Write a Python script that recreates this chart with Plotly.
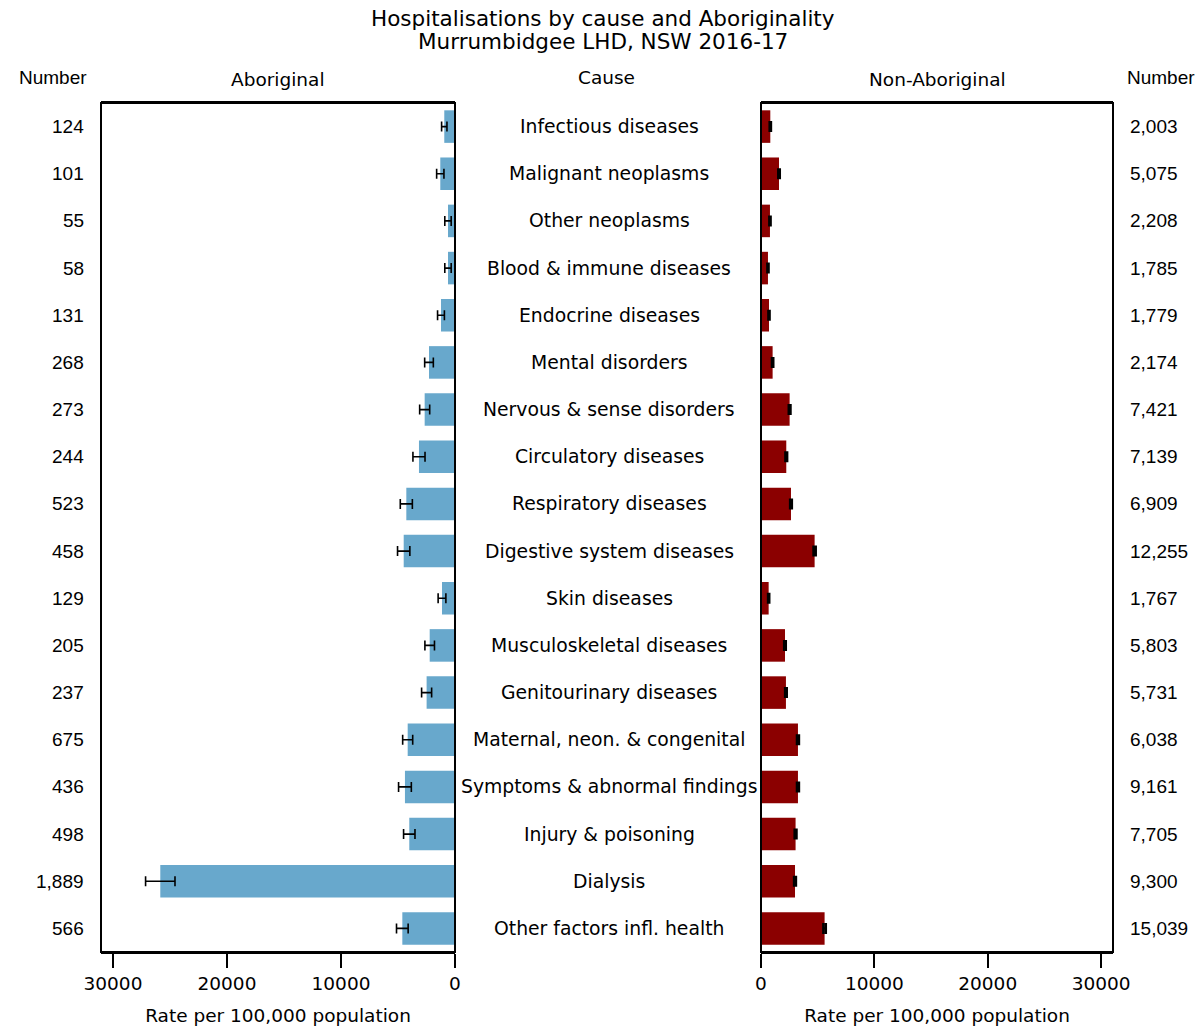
import plotly.graph_objects as go

# Hospitalisation causes, top to bottom
causes = [
    "Infectious diseases", "Malignant neoplasms", "Other neoplasms",
    "Blood & immune diseases", "Endocrine diseases", "Mental disorders",
    "Nervous & sense disorders", "Circulatory diseases", "Respiratory diseases",
    "Digestive system diseases", "Skin diseases", "Musculoskeletal diseases",
    "Genitourinary diseases", "Maternal, neon. & congenital",
    "Symptoms & abnormal findings", "Injury & poisoning", "Dialysis",
    "Other factors infl. health",
]

# Aboriginal: rate per 100,000, 95% CI half-width, number of hospitalisations
abor_rate = [940, 1290, 615, 615, 1230, 2280, 2660, 3160, 4270, 4500,
             1140, 2220, 2490, 4150, 4390, 4010, 25850, 4620]
abor_ci = [235, 320, 280, 280, 300, 380, 440, 530, 530, 540,
           340, 420, 440, 440, 560, 500, 1290, 510]
abor_n = [124, 101, 55, 58, 131, 268, 273, 244, 523, 458,
          129, 205, 237, 675, 436, 498, 1889, 566]

# Non-Aboriginal
nonabor_rate = [820, 1590, 790, 615, 705, 1025, 2525, 2230, 2645, 4730,
                675, 2115, 2200, 3260, 3260, 3050, 3000, 5610]
nonabor_ci = [60, 70, 60, 55, 55, 60, 80, 80, 80, 100,
              55, 75, 75, 90, 90, 85, 85, 110]
nonabor_n = [2003, 5075, 2208, 1785, 1779, 2174, 7421, 7139, 6909, 12255,
             1767, 5803, 5731, 6038, 9161, 7705, 9300, 15039]

title_lines = ["Hospitalisations by cause and Aboriginality",
               "Murrumbidgee LHD, NSW 2016-17"]

W, H = 1204, 1030
VERDANA = "DejaVu Sans"
ARIAL = "Liberation Sans"


def px(x):
    return x / W


def py(y):
    return 1 - y / H


fig = go.Figure()

fig.add_trace(go.Bar(
    y=causes, x=abor_rate, orientation="h", xaxis="x", yaxis="y",
    marker=dict(color="rgb(104,168,204)", line=dict(width=0)),
    error_x=dict(type="data", array=abor_ci, color="black", thickness=1.6, width=5),
    showlegend=False, name="Aboriginal",
))
fig.add_trace(go.Bar(
    y=causes, x=nonabor_rate, orientation="h", xaxis="x2", yaxis="y",
    marker=dict(color="rgb(139,0,0)", line=dict(width=0)),
    error_x=dict(type="data", array=nonabor_ci, color="black", thickness=2.4, width=5.5),
    showlegend=False, name="Non-Aboriginal",
))

axis_common = dict(
    showline=True, linecolor="black", linewidth=2, mirror=True,
    showgrid=False, zeroline=False, automargin=False,
    ticks="outside", ticklen=14, tickwidth=1.5, tickcolor="black",
    tickvals=[0, 10000, 20000, 30000], ticktext=["0", "10000", "20000", "30000"],
    tickfont=dict(family=VERDANA, size=18.5, color="black"),
    title=dict(text="Rate per 100,000 population", standoff=16,
               font=dict(family=VERDANA, size=18.5, color="black")),
)

fig.update_layout(
    width=W, height=H, autosize=False,
    margin=dict(l=0, r=0, t=0, b=0, pad=0, autoexpand=False),
    paper_bgcolor="white", plot_bgcolor="white",
    showlegend=False,
    bargap=0.31,
    xaxis=dict(domain=[px(101), px(455)], range=[31050, 0], anchor="y", **axis_common),
    xaxis2=dict(domain=[px(761), px(1113)], range=[0, 31050], anchor="y", **axis_common),
    yaxis=dict(
        domain=[py(952), py(103)], categoryorder="array", categoryarray=causes,
        autorange="reversed", showticklabels=False, ticks="", automargin=False,
        showline=False, showgrid=False, zeroline=False,
    ),
)

# Frames around both panels
for x0, x1 in [(101, 455), (761, 1113)]:
    fig.add_shape(type="rect", xref="paper", yref="paper",
                  x0=px(x0), x1=px(x1), y0=py(952), y1=py(103),
                  line=dict(color="black", width=2), fillcolor="rgba(0,0,0,0)")

ann = []
for text, yc in zip(title_lines, [18, 42]):
    ann.append(dict(text=text, xref="paper", x=px(603), xanchor="center",
                    yref="paper", y=py(yc), yanchor="middle", showarrow=False,
                    font=dict(family=VERDANA, size=21.5, color="black")))

for c, na, nn in zip(causes, abor_n, nonabor_n):
    ann.append(dict(text=c, xref="paper", x=px(609), xanchor="center",
                    yref="y", y=c, yanchor="middle", showarrow=False,
                    font=dict(family=VERDANA, size=18.8, color="black")))
    ann.append(dict(text=f"{na:,}", xref="paper", x=px(86), xanchor="right",
                    yref="y", y=c, yanchor="middle", showarrow=False,
                    font=dict(family=ARIAL, size=19, color="black")))
    ann.append(dict(text=f"{nn:,}", xref="paper", x=px(1128), xanchor="left",
                    yref="y", y=c, yanchor="middle", showarrow=False,
                    font=dict(family=ARIAL, size=19, color="black")))

headers = [
    ("Number", 53, ARIAL, 19, 77),
    ("Aboriginal", 278, VERDANA, 18.5, 79),
    ("Cause", 606, VERDANA, 18.5, 77),
    ("Non-Aboriginal", 937, VERDANA, 18.5, 79),
    ("Number", 1161, ARIAL, 19, 77),
]
for text, xc, fam, size, yc in headers:
    ann.append(dict(text=text, xref="paper", x=px(xc), xanchor="center",
                    yref="paper", y=py(yc), yanchor="middle", showarrow=False,
                    font=dict(family=fam, size=size, color="black")))

fig.update_layout(annotations=ann)

fig.write_html("out.html")
